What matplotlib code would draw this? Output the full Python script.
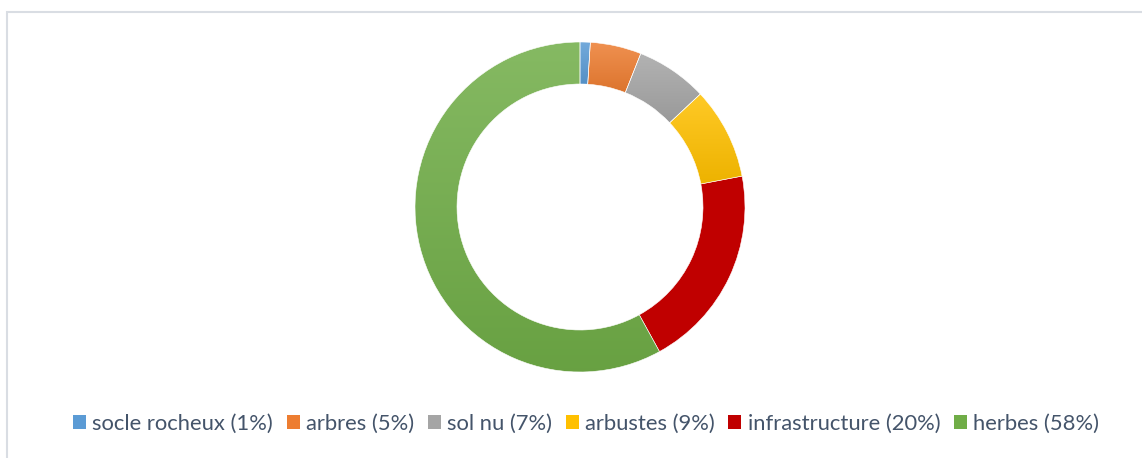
import numpy as np
import matplotlib.pyplot as plt
import matplotlib.colors as mcolors
from matplotlib.patches import Rectangle, Patch

LABELS = ["socle rocheux", "arbres", "sol nu", "arbustes", "infrastructure", "herbes"]
VALUES = [1, 5, 7, 9, 20, 58]
COLORS = ["#5B9BD5", "#ED7D31", "#A5A5A5", "#FFC000", "#C00000", "#70AD47"]

W, H = 1142, 458
fig = plt.figure(figsize=(W / 100, H / 100), dpi=100)
ax = fig.add_axes([0, 0, 1, 1])

wedges, _ = ax.pie(VALUES, colors=COLORS, startangle=90, counterclock=False,
                   center=(580, 251), radius=165,
                   wedgeprops=dict(width=42, edgecolor="white", linewidth=0.4))
ax.set_xlim(0, W)
ax.set_ylim(0, H)
ax.set_aspect("equal")
ax.axis("off")


def shade(c, top):
    rgb = np.array(mcolors.to_rgb(c))
    if top:
        return rgb + (1 - rgb) * 0.15
    return rgb * 0.93


# vertical gradient inside each slice, light at top, darker at bottom
for w, c in zip(wedges, COLORS):
    if c == "#C00000":
        continue
    bb = w.get_path().get_extents(w.get_patch_transform())
    t = np.linspace(0, 1, 64)[:, None]
    grad = shade(c, True) * (1 - t[..., None]) + shade(c, False) * t[..., None]
    grad = np.repeat(grad, 2, axis=1)
    im = ax.imshow(grad, extent=(bb.x0, bb.x1, bb.y0, bb.y1), origin="upper",
                   aspect="auto", zorder=w.get_zorder(), interpolation="bilinear")
    im.set_clip_path(w)
    w.set_facecolor("none")
    w.set_zorder(w.get_zorder() + 0.5)

ax.set_xlim(0, W)
ax.set_ylim(0, H)

# chart border (runs past right and bottom edges)
ax.add_patch(Rectangle((6.5, -20), W + 40, H - 11.5 + 20, fill=False,
                       edgecolor="#D9DDE3", linewidth=1.5, zorder=0))

handles = [Patch(facecolor=c, edgecolor="none") for c in COLORS]
texts = [f"{l} ({v}%)" for l, v in zip(LABELS, VALUES)]
fig.legend(handles, texts, loc="center", bbox_to_anchor=(586 / W, 34 / H), ncol=6,
           frameon=False, prop={"family": "Lato", "size": 15.8},
           labelcolor="#44546A", handlelength=0.6, handleheight=0.6,
           handletextpad=0.28, columnspacing=0.62)

fig.savefig("out.png", dpi=100)
